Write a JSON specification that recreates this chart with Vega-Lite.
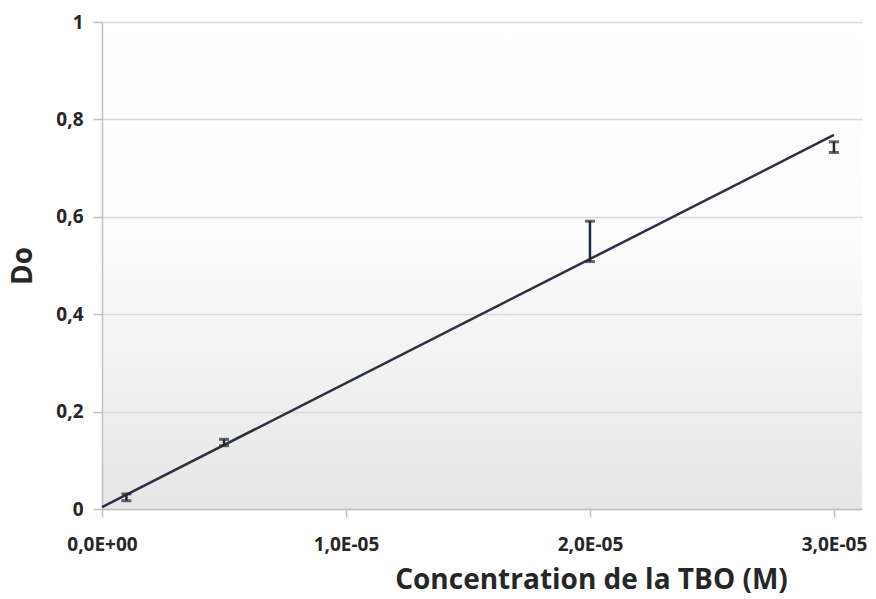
{
  "$schema": "https://vega.github.io/schema/vega-lite/v6.json",
  "width": 760,
  "height": 487,
  "autosize": {"type": "none"},
  "padding": {"left": 102, "top": 22, "right": 14, "bottom": 90},
  "background": "white",
  "config": {
    "view": {"stroke": null, "fill": {"gradient": "linear", "x1": 0, "y1": 0, "x2": 0, "y2": 1, "stops": [{"offset": 0, "color": "#ffffff"}, {"offset": 0.45, "color": "#fcfcfc"}, {"offset": 1, "color": "#e6e6e6"}]}},
    "font": "Open Sans",
    "axis": {"labelFont": "Open Sans", "titleFont": "Open Sans", "labelFontWeight": "bold", "titleFontWeight": "bold", "labelColor": "#262626", "titleColor": "#262626", "domainColor": "#bfbfbf", "tickColor": "#bfbfbf", "gridColor": "#d9d9d9", "domainWidth": 1.5, "tickWidth": 1.5, "gridWidth": 1.5}
  },
  "datasets": {
    "fit": [{"conc": 0, "do": 0.004}, {"conc": 3e-5, "do": 0.768}],
    "obs": [
      {"conc": 1e-6, "lo": 0.017, "hi": 0.031},
      {"conc": 5e-6, "lo": 0.13, "hi": 0.143},
      {"conc": 2e-5, "lo": 0.508, "hi": 0.591},
      {"conc": 3e-5, "lo": 0.732, "hi": 0.754}
    ]
  },
  "resolve": {"axis": {"y": "shared"}},
  "layer": [
    {
      "data": {"name": "fit"},
      "mark": {"type": "line", "color": "#2a3142", "strokeWidth": 2.5},
      "encoding": {
        "x": {"field": "conc", "type": "quantitative", "scale": {"domain": [0, 3.115e-5], "nice": false},
          "axis": {"values": [0, 1e-5, 2e-5, 3e-5], "grid": false, "tickSize": 8, "labelFontSize": 19, "labelPadding": 18, "labelFlush": false,
            "labelExpr": "datum.value == 0 ? '0,0E+00' : replace(format(datum.value / 1e-5, '.1f'), '.', ',') + 'E-05'",
            "title": "Concentration de la TBO (M)", "titleFontSize": 28, "titlePadding": 12, "titleX": 489, "titleAnchor": "middle"}},
        "y": {"field": "do", "type": "quantitative", "scale": {"domain": [0, 1], "nice": false},
          "axis": {"values": [0, 0.2, 0.4, 0.6, 0.8, 1], "tickSize": 9, "labelFontSize": 19, "labelPadding": 10,
            "labelExpr": "replace(toString(datum.value), '.', ',')",
            "title": "Do", "titleFontSize": 28, "titlePadding": 18}}
      }
    },
    {
      "data": {"name": "obs"},
      "mark": {"type": "errorbar", "color": "#1f2738", "ticks": {"size": 10, "thickness": 3}, "rule": {"strokeWidth": 2.5}},
      "encoding": {
        "x": {"field": "conc", "type": "quantitative"},
        "y": {"field": "lo", "type": "quantitative", "title": "Do"},
        "y2": {"field": "hi"}
      }
    }
  ]
}
